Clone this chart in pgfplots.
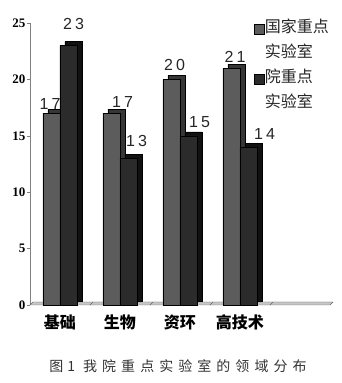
\documentclass[border=0pt]{standalone}
\usepackage{pgfplots}
\pgfplotsset{compat=1.18}
\usepackage{fontspec}
\setmainfont{Liberation Serif}
\newfontfamily\cjk{Noto Sans CJK SC}
\newfontfamily\capfont[LetterSpace=36]{Noto Sans CJK SC}
\newfontfamily\numfont[LetterSpace=20]{Liberation Sans}
\definecolor{gfront}{HTML}{5C5C5C}
\definecolor{gback}{HTML}{363636}
\definecolor{dfront}{HTML}{2B2B2B}
\definecolor{dback}{HTML}{111111}
\pgfplotsset{
  vlab/.style n args={2}{ybar, bar shift=0pt, draw=none, fill=none, forget plot,
    nodes near coords, nodes near coords style={font=\numfont\fontsize{16}{16}\selectfont, text=black!85, xshift=#1, yshift=#2}},
}
\begin{document}
\begin{tikzpicture}
\useasboundingbox (0,0) rectangle (342pt,383pt);
\begin{axis}[
  at={(30pt,78pt)}, anchor=south west,
  scale only axis, width=300pt, height=282pt,
  xmin=-0.5, xmax=4.5, ymin=0, ymax=25,
  axis y line*=left, axis x line*=bottom,
  axis line style={-},
  y axis line style={draw=gray},
  x axis line style={draw=none},
  ytick={0,5,...,25},
  xtick={0,1,2,3},
  xticklabels={基础,生物,资环,高技术},
  xtick style={draw=none},
  xticklabel style={font=\cjk\bfseries\fontsize{16}{16}\selectfont, yshift=-3pt},
  yticklabel style={font=\bfseries\fontsize{13}{13}\selectfont, xshift=2pt},
  /pgf/number format/assume math mode=true,
  tick align=outside, major tick length=3pt,
  ytick style={draw=gray},
  bar width=17pt,
  clip=false,
  legend style={at={(rel axis cs:0.735,1.03)}, anchor=north west, draw=none, fill=none,
    font=\cjk\fontsize{16}{16}\selectfont, text=black!85, row sep=0pt,
    nodes={inner sep=1pt, text height=15pt, text depth=8pt}},
  legend cell align=left,
]
% floor
\fill[gray!45, draw=black!60] (axis cs:-0.5,0) -- (axis cs:4.5,0) -- ([shift={(3pt,3pt)}]axis cs:4.5,0) -- ([shift={(3pt,3pt)}]axis cs:-0.5,0) -- cycle;
\pgfplotsinvokeforeach{0.5,1.5,2.5,3.5}{\draw[black!60] (axis cs:#1,0) -- ++(3pt,3pt);}
% depth (back) faces
\addplot[ybar, bar shift=-8.5pt, fill=gback, draw=black, line width=0.3pt, xshift=5pt, yshift=4pt, forget plot]
  coordinates {(0,17) (1,17) (2,20) (3,21)};
\addplot[ybar, bar shift=8.5pt, fill=dback, draw=black, line width=0.3pt, xshift=5pt, yshift=4pt, forget plot]
  coordinates {(0,23) (1,13) (2,15) (3,14)};
% grey series (国家重点实验室)
\addplot[ybar, bar shift=-8.5pt, fill=gfront, draw=black, line width=0.3pt,
  legend image code/.code={\draw[black, fill=gfront] (-4pt,-5pt) rectangle (6pt,5pt);}]
  coordinates {(0,17) (1,17) (2,20) (3,21)};
\addlegendentry{国家重点}
\addlegendimage{empty legend}
\addlegendentry{实验室}
% dark series (院重点实验室)
\addplot[ybar, bar shift=8.5pt, fill=dfront, draw=black, line width=0.3pt,
  legend image code/.code={\draw[black, fill=dfront] (-4pt,-5pt) rectangle (6pt,5pt);}]
  coordinates {(0,23) (1,13) (2,15) (3,14)};
\addlegendentry{院重点}
\addlegendimage{empty legend}
\addlegendentry{实验室}
% value labels (drawn last)
\addplot[vlab={-10pt}{0pt}] coordinates {(0,17)};
\addplot[vlab={2.5pt}{2pt}] coordinates {(1,17)};
\addplot[vlab={-5.5pt}{5pt}] coordinates {(2,20)};
\addplot[vlab={-5pt}{2pt}] coordinates {(3,21)};
\addplot[vlab={13.5pt}{12pt}] coordinates {(0,23)};
\addplot[vlab={16.5pt}{8pt}] coordinates {(1,13)};
\addplot[vlab={19.5pt}{5pt}] coordinates {(2,15)};
\addplot[vlab={24.5pt}{4pt}] coordinates {(3,14)};
\end{axis}
\node[font=\capfont\fontsize{14}{14}\selectfont, text=black!80] at (178pt,17pt) {图\hspace{4pt}1\hspace{8pt}我院重点实验室的领域分布};
\end{tikzpicture}
\end{document}
